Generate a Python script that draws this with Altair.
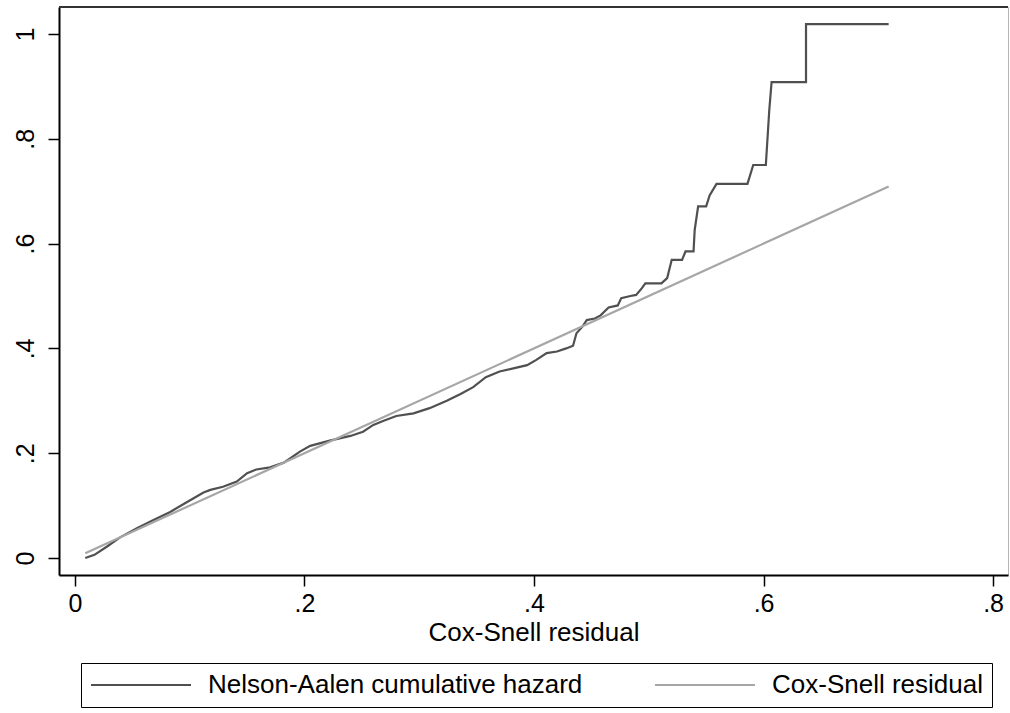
import altair as alt
import pandas as pd

# Nelson-Aalen cumulative hazard of the Cox-Snell residuals (step curve)
na_x = [0.009, 0.017, 0.028, 0.039, 0.054, 0.068, 0.083, 0.097, 0.112, 0.118,
        0.129, 0.141, 0.150, 0.158, 0.170, 0.182, 0.196, 0.205, 0.222, 0.240,
        0.251, 0.260, 0.269, 0.280, 0.295, 0.309, 0.324, 0.336, 0.347, 0.358,
        0.370, 0.382, 0.394, 0.402, 0.411, 0.420, 0.428, 0.434, 0.437, 0.442,
        0.446, 0.453, 0.458, 0.465, 0.473, 0.476, 0.484, 0.489, 0.494, 0.497,
        0.511, 0.516, 0.520, 0.529, 0.532, 0.539, 0.540, 0.543, 0.550, 0.553,
        0.559, 0.586, 0.591, 0.602, 0.605, 0.607, 0.637, 0.637, 0.709]
na_y = [0.000, 0.006, 0.022, 0.039, 0.057, 0.072, 0.088, 0.106, 0.125, 0.130,
        0.136, 0.146, 0.162, 0.169, 0.173, 0.182, 0.203, 0.214, 0.224, 0.233,
        0.241, 0.254, 0.262, 0.271, 0.276, 0.286, 0.300, 0.313, 0.326, 0.345,
        0.356, 0.362, 0.368, 0.378, 0.391, 0.394, 0.400, 0.405, 0.429, 0.441,
        0.454, 0.457, 0.463, 0.478, 0.482, 0.496, 0.500, 0.502, 0.515, 0.524,
        0.524, 0.534, 0.569, 0.569, 0.585, 0.585, 0.626, 0.671, 0.671, 0.692,
        0.714, 0.714, 0.750, 0.750, 0.855, 0.908, 0.908, 1.019, 1.019]

# Reference line: cumulative hazard equal to the residual
cs_x = [0.009, 0.709]
cs_y = [0.009, 0.709]

series = ["Nelson-Aalen cumulative hazard", "Cox-Snell residual"]
colors = ["#505050", "#a6a6a6"]

x_ticks = [0, 0.2, 0.4, 0.6, 0.8]
y_ticks = [0, 0.2, 0.4, 0.6, 0.8, 1.0]

rows = []
for i, (x, y) in enumerate(zip(na_x, na_y)):
    rows.append({"x": x, "y": y, "series": series[0], "order": i})
for i, (x, y) in enumerate(zip(cs_x, cs_y)):
    rows.append({"x": x, "y": y, "series": series[1], "order": i})
df = pd.DataFrame(rows)

FONT = "Liberation Sans"
label_expr = "datum.value == 0 ? '0' : datum.value == 1 ? '1' : '.' + round(datum.value * 10)"

W, H = 949, 568

lines = alt.Chart(df).mark_line(strokeWidth=2.2).encode(
    x=alt.X(
        "x:Q",
        scale=alt.Scale(domain=[-0.0139, 0.813], nice=False, zero=False),
        axis=alt.Axis(
            values=x_ticks, labelExpr=label_expr, title="Cox-Snell residual",
            grid=False, tickSize=11, tickWidth=1.5, tickColor="black",
            domainColor="black", domainWidth=2,
            labelFont=FONT, labelFontSize=25, labelColor="black", labelPadding=5,
            labelFlush=False, labelOverlap=False,
            titleFont=FONT, titleFontSize=26, titleFontWeight="normal",
            titleColor="black", titleY=65, titleBaseline="alphabetic",
        ),
    ),
    y=alt.Y(
        "y:Q",
        scale=alt.Scale(domain=[-0.0324, 1.0515], nice=False, zero=False),
        axis=alt.Axis(
            values=y_ticks, labelExpr=label_expr, title=None,
            grid=False, tickSize=11, tickWidth=1.5, tickColor="black",
            domainColor="black", domainWidth=2,
            labelFont=FONT, labelFontSize=25, labelColor="black",
            labelAngle=270, labelAlign="center", labelBaseline="alphabetic",
            labelPadding=15, labelFlush=False, labelOverlap=False,
        ),
    ),
    color=alt.Color(
        "series:N",
        scale=alt.Scale(domain=series, range=colors),
        legend=alt.Legend(
            title=None, orient="none", legendX=22, legendY=656,
            direction="horizontal", columns=2, columnPadding=71,
            symbolType="stroke", symbolSize=10000, symbolStrokeWidth=2,
            clipHeight=26, labelOffset=16,
            labelFont=FONT, labelFontSize=26, labelColor="black", labelLimit=700,
            padding=9, strokeColor="black", fillColor="white",
            cornerRadius=0,
        ),
    ),
    order="order:Q",
)

# darker upper border of the plot region
top_border = alt.Chart(df).mark_rule(color="#333333", strokeWidth=2).encode(
    x=alt.value(0), x2=alt.value(W), y=alt.value(0)
)

chart = alt.layer(lines, top_border).properties(
    width=W, height=H,
    autosize=alt.AutoSizeParams(type="none"),
    padding={"left": 59, "top": 7, "right": 2, "bottom": 138},
    background="white",
).configure_view(stroke="#b5b5b5", strokeWidth=1)

chart.save("out.html", embed_options={"renderer": "svg", "actions": False})
